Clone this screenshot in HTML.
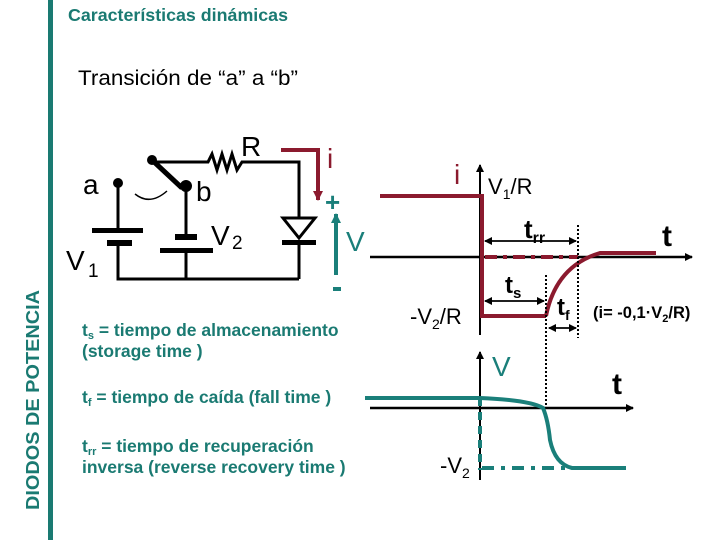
<!DOCTYPE html>
<html><head><meta charset="utf-8"><style>
body{margin:0;background:#fff;width:720px;height:540px;overflow:hidden}
svg text{font-family:"Liberation Sans",sans-serif;font-weight:bold}
</style></head><body>
<svg width="720" height="540" viewBox="0 0 720 540" xmlns="http://www.w3.org/2000/svg">
<defs>
<marker id="ab" markerWidth="8" markerHeight="8" refX="7" refY="4" orient="auto" markerUnits="userSpaceOnUse"><path d="M0,0 L8,4 L0,8 z" fill="#000"/></marker>
<marker id="ar" markerWidth="10" markerHeight="10" refX="9" refY="5" orient="auto" markerUnits="userSpaceOnUse"><path d="M0,0 L10,5 L0,10 z" fill="#8b1a2e"/></marker>
<marker id="at" markerWidth="10" markerHeight="10" refX="9" refY="5" orient="auto" markerUnits="userSpaceOnUse"><path d="M0,0 L10,5 L0,10 z" fill="#1a7f7a"/></marker>
</defs>
<rect x="48" y="0" width="5" height="540" fill="#1a7a72"/>
<text x="68" y="21" font-size="17.5" fill="#1a7a72" textLength="220" lengthAdjust="spacingAndGlyphs">Características dinámicas</text>
<text x="78" y="85" font-size="21" fill="#000" style="font-weight:normal" textLength="220" lengthAdjust="spacingAndGlyphs">Transición de “a” a “b”</text>
<text transform="translate(39,510) rotate(-90)" font-size="18" fill="#1a7a72" textLength="220" lengthAdjust="spacingAndGlyphs">DIODOS DE POTENCIA</text>

<!-- circuit -->
<g stroke="#000" stroke-width="3" fill="none">
<polyline points="152,162 208,162 212,154 217,170 222,154 227,170 232,154 237,170 242,162 299,162 299,218"/>
<line x1="299" y1="244" x2="299" y2="279"/>
<polyline points="118,183 118,230"/>
<polyline points="118,243 118,279 299,279"/>
<line x1="186" y1="186" x2="186" y2="237"/>
<line x1="186" y1="250" x2="186" y2="279"/>
<line x1="152" y1="160" x2="182" y2="188" stroke-width="5"/>
<path d="M135,194 Q150,206 167,191" stroke-width="1.5"/>
</g>
<circle cx="118" cy="183" r="5"/><circle cx="186" cy="186" r="6"/><circle cx="152" cy="160" r="5"/>
<rect x="92" y="228" width="51" height="5"/><rect x="107" y="240" width="25" height="6"/>
<rect x="175" y="234" width="22" height="6"/><rect x="160" y="248" width="53" height="5"/>
<path d="M283,218 L315,218 L299,238 z" fill="#fff" stroke="#000" stroke-width="3"/>
<rect x="282" y="240" width="34" height="5"/>
<text x="83" y="194" font-size="28" style="font-weight:normal">a</text>
<text x="196" y="201" font-size="28" style="font-weight:normal">b</text>
<text x="241" y="156" font-size="28" style="font-weight:normal">R</text>
<text x="211" y="245" font-size="28" style="font-weight:normal">V</text><text x="232" y="249" font-size="19" style="font-weight:normal">2</text>
<text x="66" y="270" font-size="28" style="font-weight:normal">V</text><text x="88" y="277" font-size="19" style="font-weight:normal">1</text>
<polyline points="281,150 318,150 318,200" stroke="#8b1a2e" stroke-width="4" fill="none" marker-end="url(#ar)"/>
<text x="327" y="168" font-size="28" fill="#8b1a2e" style="font-weight:normal">i</text>
<text x="325" y="211" font-size="26" fill="#1a7f7a">+</text>
<line x1="336" y1="275" x2="336" y2="214" stroke="#1a7f7a" stroke-width="4" marker-end="url(#at)"/>
<text x="346" y="251" font-size="28" fill="#1a7f7a" style="font-weight:normal">V</text>
<rect x="333" y="287" width="8" height="4" fill="#1a7f7a"/>

<!-- text block -->
<g fill="#1a7a72" font-size="17.5">
<text x="82" y="336">t<tspan font-size="11" dy="3">s</tspan><tspan dy="-3"> = tiempo de almacenamiento</tspan></text>
<text x="82" y="357">(storage time )</text>
<text x="82" y="403">t<tspan font-size="11" dy="3">f</tspan><tspan dy="-3"> = tiempo de caída (fall time )</tspan></text>
<text x="82" y="452">t<tspan font-size="11" dy="3">rr</tspan><tspan dy="-3"> = tiempo de recuperación</tspan></text>
<text x="82" y="473">inversa (reverse recovery time )</text>
</g>

<!-- i graph -->
<line x1="480" y1="335" x2="480" y2="165" stroke="#000" stroke-width="2" marker-end="url(#ab)"/>
<line x1="370" y1="257" x2="692" y2="257" stroke="#000" stroke-width="2.5" marker-end="url(#ab)"/>
<polyline points="380,196 482,196 482,316 546,316" stroke="#8b1a2e" stroke-width="4" fill="none"/>
<path d="M546,316 Q556,266 600,253 L656,253" stroke="#8b1a2e" stroke-width="4" fill="none"/>
<line x1="485" y1="257" x2="578" y2="257" stroke="#8b1a2e" stroke-width="4" stroke-dasharray="12,6,4,6"/>
<line x1="578" y1="225" x2="578" y2="338" stroke="#000" stroke-width="2" stroke-dasharray="2,2"/>
<line x1="546" y1="275" x2="546" y2="408" stroke="#000" stroke-width="2" stroke-dasharray="2,2"/>
<g stroke="#000" stroke-width="1.5">
<line x1="485" y1="241" x2="576" y2="241" marker-end="url(#ab)"/><line x1="576" y1="241" x2="485" y2="241" marker-end="url(#ab)"/>
<line x1="485" y1="301" x2="544" y2="301" marker-end="url(#ab)"/><line x1="544" y1="301" x2="485" y2="301" marker-end="url(#ab)"/>
<line x1="549" y1="328" x2="576" y2="328" marker-end="url(#ab)"/><line x1="576" y1="328" x2="549" y2="328" marker-end="url(#ab)"/>
</g>
<text x="454" y="184" font-size="28" fill="#8b1a2e" style="font-weight:normal">i</text>
<text x="488" y="194" font-size="22" style="font-weight:normal">V<tspan font-size="14" dy="5">1</tspan><tspan dy="-5">/R</tspan></text>
<text x="524" y="238" font-size="26">t<tspan font-size="16" dy="5">rr</tspan></text>
<text x="662" y="246" font-size="30">t</text>
<text x="505" y="293" font-size="24">t<tspan font-size="15" dy="5">s</tspan></text>
<text x="410" y="324" font-size="22" style="font-weight:normal">-V<tspan font-size="14" dy="5">2</tspan><tspan dy="-5">/R</tspan></text>
<text x="557" y="315" font-size="24">t<tspan font-size="14" dy="5">f</tspan></text>
<text x="593" y="318" font-size="16.5">(i= -0,1·V<tspan font-size="11" dy="4">2</tspan><tspan dy="-4">/R)</tspan></text>

<!-- V graph -->
<line x1="480" y1="480" x2="480" y2="352" stroke="#000" stroke-width="2" marker-end="url(#ab)"/>
<line x1="370" y1="408" x2="633" y2="408" stroke="#000" stroke-width="2.5" marker-end="url(#ab)"/>
<path d="M365,398 L480,398 Q530,400 543,408 Q548,420 550,440 Q555,464 572,468 L626,468" stroke="#1a7f7a" stroke-width="4" fill="none"/>
<line x1="480" y1="398" x2="480" y2="470" stroke="#1a7f7a" stroke-width="4" stroke-dasharray="8,6"/>
<line x1="482" y1="468" x2="570" y2="468" stroke="#1a7f7a" stroke-width="4" stroke-dasharray="12,7,4,7"/>
<text x="492" y="376" font-size="28" fill="#1a7f7a" style="font-weight:normal">V</text>
<text x="612" y="394" font-size="30">t</text>
<text x="440" y="473" font-size="22" style="font-weight:normal">-V<tspan font-size="14" dy="5">2</tspan></text>
</svg>
</body></html>
